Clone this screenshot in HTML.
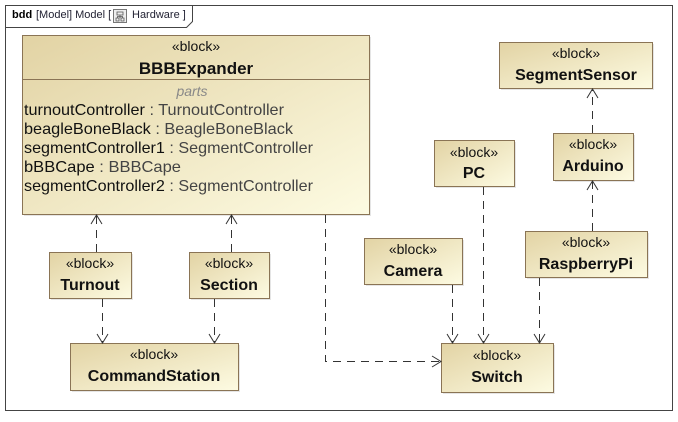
<!DOCTYPE html>
<html><head><meta charset="utf-8"><style>
body{margin:0;background:#fff;}
svg text{font-family:"Liberation Sans",Arial,sans-serif;}
</style></head><body>
<svg width="678" height="417" xmlns="http://www.w3.org/2000/svg">
<defs>
<linearGradient id="g" x1="0" y1="0" x2="1" y2="1">
<stop offset="0" stop-color="#e2d3a4"/><stop offset="1" stop-color="#fdfbe2"/>
</linearGradient>
</defs>
<rect x="0" y="0" width="678" height="417" fill="#fff"/>
<rect x="5.5" y="5.5" width="667" height="405" fill="none" stroke="#444" stroke-width="1"/>
<path d="M5.5 27.5 H186.5 L192.5 21.5 V5.5" fill="none" stroke="#444"/>
<text x="12" y="18" font-size="11" font-weight="bold" fill="#000">bdd</text>
<text x="36" y="18" font-size="11" fill="#223">[Model] Model [</text>
<rect x="113.5" y="9.5" width="13" height="13" fill="#eee" stroke="#777"/>
<path d="M117 12h6v3h-6zM116 18h3v3h-3zM121 18h3v3h-3zM120 15v3M117.5 18v-1.5h5v1.5" fill="none" stroke="#555" stroke-width="0.8"/>
<text x="132" y="18" font-size="11" fill="#223">Hardware ]</text>

<g stroke="#8a7455" stroke-width="1" fill="url(#g)">
<rect x="24" y="37" width="347" height="179" fill="#ccc" stroke="none" opacity="0.5"/>
<rect x="22.5" y="35.5" width="347" height="179"/>
<rect x="51" y="254" width="82" height="46" fill="#ccc" stroke="none" opacity="0.5"/>
<rect x="49.5" y="252.5" width="82" height="46"/>
<rect x="191" y="254" width="80" height="46" fill="#ccc" stroke="none" opacity="0.5"/>
<rect x="189.5" y="252.5" width="80" height="46"/>
<rect x="72" y="345" width="168" height="47" fill="#ccc" stroke="none" opacity="0.5"/>
<rect x="70.5" y="343.5" width="168" height="47"/>
<rect x="366" y="240" width="98" height="46" fill="#ccc" stroke="none" opacity="0.5"/>
<rect x="364.5" y="238.5" width="98" height="46"/>
<rect x="436" y="142" width="80" height="46" fill="#ccc" stroke="none" opacity="0.5"/>
<rect x="434.5" y="140.5" width="80" height="46"/>
<rect x="501" y="44" width="153" height="46" fill="#ccc" stroke="none" opacity="0.5"/>
<rect x="499.5" y="42.5" width="153" height="46"/>
<rect x="555" y="135" width="80" height="47" fill="#ccc" stroke="none" opacity="0.5"/>
<rect x="553.5" y="133.5" width="80" height="47"/>
<rect x="527" y="233" width="122" height="46" fill="#ccc" stroke="none" opacity="0.5"/>
<rect x="525.5" y="231.5" width="122" height="46"/>
<rect x="443" y="345" width="112" height="49" fill="#ccc" stroke="none" opacity="0.5"/>
<rect x="441.5" y="343.5" width="112" height="49"/>
</g>
<line x1="22.5" y1="79.5" x2="369.5" y2="79.5" stroke="#8a7455"/>

<g font-size="14" text-anchor="middle" fill="#111">
<text x="196" y="51">«block»</text>
<text x="196" y="74" font-size="17" font-weight="bold">BBBExpander</text>
<text x="192" y="96" font-style="italic" fill="#888">parts</text>
<text x="90" y="268">«block»</text><text x="90" y="290" font-size="16" font-weight="bold">Turnout</text>
<text x="229" y="268">«block»</text><text x="229" y="290" font-size="16" font-weight="bold">Section</text>
<text x="154" y="359">«block»</text><text x="154" y="381" font-size="16" font-weight="bold">CommandStation</text>
<text x="413" y="254">«block»</text><text x="413" y="276" font-size="16" font-weight="bold">Camera</text>
<text x="474" y="157">«block»</text><text x="474" y="178" font-size="16" font-weight="bold">PC</text>
<text x="576" y="58">«block»</text><text x="576" y="80" font-size="16" font-weight="bold">SegmentSensor</text>
<text x="593" y="149">«block»</text><text x="593" y="171" font-size="16" font-weight="bold">Arduino</text>
<text x="586" y="247">«block»</text><text x="586" y="269" font-size="16" font-weight="bold">RaspberryPi</text>
<text x="497" y="360">«block»</text><text x="497" y="382" font-size="16" font-weight="bold">Switch</text>
</g>
<g font-size="16" fill="#111">
<text x="24" y="115" textLength="260" lengthAdjust="spacingAndGlyphs">turnoutController <tspan fill="#444">: TurnoutController</tspan></text>
<text x="24" y="134" textLength="269" lengthAdjust="spacingAndGlyphs">beagleBoneBlack <tspan fill="#444">: BeagleBoneBlack</tspan></text>
<text x="24" y="153" textLength="289" lengthAdjust="spacingAndGlyphs">segmentController1 <tspan fill="#444">: SegmentController</tspan></text>
<text x="24" y="172" textLength="157" lengthAdjust="spacingAndGlyphs">bBBCape <tspan fill="#444">: BBBCape</tspan></text>
<text x="24" y="191" textLength="289" lengthAdjust="spacingAndGlyphs">segmentController2 <tspan fill="#444">: SegmentController</tspan></text>
</g>

<g stroke="#333" stroke-width="1" fill="none" stroke-dasharray="8,6">
<path d="M96.5 252 V215"/>
<path d="M231.5 252 V215"/>
<path d="M102.5 299 V342"/>
<path d="M214.5 299 V342"/>
<path d="M325.5 215 V361.5 H440"/>
<path d="M452.5 285 V342"/>
<path d="M483.5 187 V342"/>
<path d="M539.5 278 V342"/>
<path d="M592.5 231 V181"/>
<path d="M592.5 133 V89"/>
</g>
<g stroke="#333" stroke-width="1" fill="none">
<path d="M91 224 L96.5 215 L102 224"/>
<path d="M226 224 L231.5 215 L237 224"/>
<path d="M97 334 L102.5 343 L108 334"/>
<path d="M209 334 L214.5 343 L220 334"/>
<path d="M432 356 L441 361.5 L432 367"/>
<path d="M447 334 L452.5 343 L458 334"/>
<path d="M478 334 L483.5 343 L489 334"/>
<path d="M534 334 L539.5 343 L545 334"/>
<path d="M587 190 L592.5 181 L598 190"/>
<path d="M587 98 L592.5 89 L598 98"/>
</g>
</svg>
</body></html>
